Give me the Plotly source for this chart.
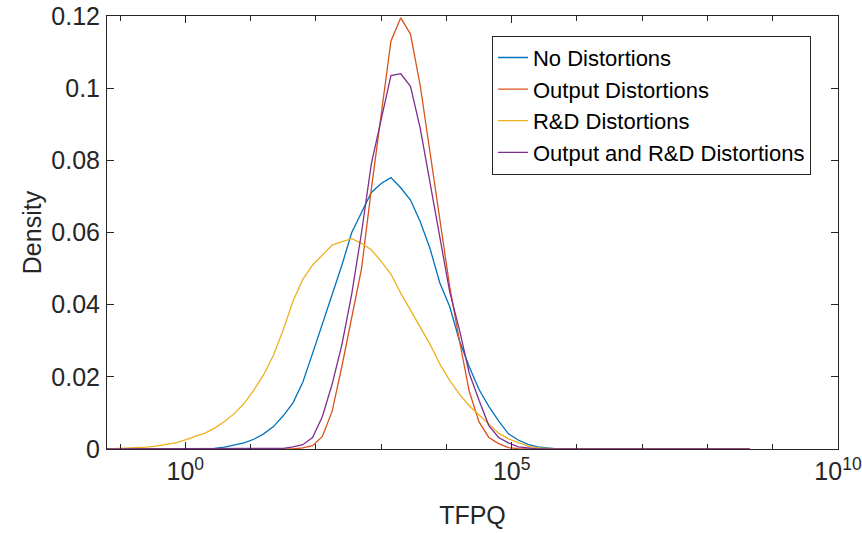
import plotly.graph_objects as go

# log10(TFPQ) evaluation grid (exponents)
log_tfpq = [-1.2, -1.05, -0.9, -0.75, -0.6, -0.45, -0.3, -0.15, 0.0, 0.15,
            0.3, 0.45, 0.6, 0.75, 0.9, 1.05, 1.2, 1.35, 1.5, 1.65,
            1.8, 1.95, 2.1, 2.25, 2.4, 2.55, 2.7, 2.85, 3.0, 3.15,
            3.3, 3.45, 3.6, 3.75, 3.9, 4.05, 4.2, 4.35, 4.5, 4.65,
            4.8, 4.95, 5.1, 5.25, 5.4, 5.55, 5.7, 5.85, 6.0, 7.0, 8.0, 8.65]

no_distortions = [0, 0, 0, 0, 0, 0, 0, 0, 0, 0,
                  0.0001, 0.0002, 0.0005, 0.0010, 0.0017, 0.0027, 0.0042, 0.0062, 0.0092, 0.0128,
                  0.0185, 0.0265, 0.0345, 0.0428, 0.0510, 0.0600, 0.0655, 0.0711, 0.0736, 0.0752,
                  0.0724, 0.0690, 0.0630, 0.0555, 0.0460, 0.0395, 0.0300, 0.0228, 0.0165, 0.0118,
                  0.0078, 0.0042, 0.0025, 0.0013, 0.0006, 0.0002, 0, 0, 0, 0, 0, 0]

output_distortions = [0, 0, 0, 0, 0, 0, 0, 0, 0, 0,
                      0, 0, 0, 0, 0, 0, 0, 0, 0, 0,
                      0.0003, 0.0009, 0.0035, 0.0105, 0.0230, 0.0360, 0.0500, 0.0720, 0.0930, 0.1130,
                      0.1195, 0.1150, 0.1006, 0.0823, 0.0636, 0.0451, 0.0300, 0.0160, 0.0075, 0.0032,
                      0.0015, 0.0004, 0.0001, 0, 0, 0, 0, 0, 0, 0, 0, 0]

rd_distortions = [0, 0.0001, 0.0002, 0.0003, 0.0005, 0.0008, 0.0012, 0.0017, 0.0025, 0.0034,
                  0.0044, 0.0058, 0.0076, 0.0098, 0.0126, 0.0163, 0.0206, 0.0260, 0.0330, 0.0410,
                  0.0470, 0.0510, 0.0537, 0.0565, 0.0575, 0.0583, 0.0570, 0.0552, 0.0520, 0.0485,
                  0.0432, 0.0385, 0.0340, 0.0290, 0.0235, 0.0190, 0.0152, 0.0120, 0.0094, 0.0068,
                  0.0044, 0.0028, 0.0017, 0.0008, 0.0003, 0.0001, 0, 0, 0, 0, 0, 0]

output_rd_distortions = [0, 0, 0, 0, 0, 0, 0, 0, 0, 0,
                         0, 0, 0, 0, 0, 0, 0, 0, 0.0002, 0.0006,
                         0.0012, 0.0032, 0.0090, 0.0180, 0.0290, 0.0430, 0.0600, 0.0790, 0.0915, 0.1035,
                         0.1040, 0.1005, 0.0888, 0.0739, 0.0588, 0.0436, 0.0330, 0.0210, 0.0135, 0.0065,
                         0.0032, 0.0017, 0.0006, 0.0002, 0, 0, 0, 0, 0, 0, 0, 0]

series_names = ["No Distortions", "Output Distortions", "R&D Distortions",
                "Output and R&D Distortions"]
series_values = [no_distortions, output_distortions, rd_distortions, output_rd_distortions]
colors = ["#0072BD", "#D95319", "#EDB120", "#7E2F8E"]

x_tick_vals = [1, 1e5, 1e10]
x_tick_text = ["10<sup>0</sup>", "10<sup>5</sup>", "10<sup>10</sup>"]
x_minor_vals = [10.0 ** k for k in range(-1, 11)]

tfpq = [10.0 ** e for e in log_tfpq]

fig = go.Figure()
for name, vals, col in zip(series_names, series_values, colors):
    fig.add_trace(go.Scatter(x=tfpq, y=vals, mode="lines", name=name,
                             line=dict(color=col, width=1.3)))

axis_col = "#262626"
font_family = "Liberation Sans, Arial, sans-serif"

fig.update_layout(
    width=862, height=533,
    margin=dict(l=107, r=24, t=16, b=84),
    paper_bgcolor="white", plot_bgcolor="white",
    font=dict(family=font_family, color=axis_col, size=25),
    showlegend=True,
    legend=dict(
        x=0.963, y=0.9545, xanchor="right", yanchor="top",
        bgcolor="white", bordercolor=axis_col, borderwidth=1,
        font=dict(size=22, color="#000000"),
        tracegroupgap=0, itemwidth=30,
    ),
)

fig.update_xaxes(
    type="log", range=[-1.2, 10], automargin=False,
    tickmode="array", tickvals=x_tick_vals, ticktext=x_tick_text,
    ticks="inside", ticklen=7, tickcolor=axis_col,
    showline=True, linecolor=axis_col, linewidth=1, mirror="ticks",
    showgrid=False, zeroline=False,
    tickfont=dict(size=25, color=axis_col),
    minor=dict(tickvals=x_minor_vals, ticks="inside", ticklen=5, tickcolor=axis_col, showgrid=False),
    title=dict(text="TFPQ", font=dict(size=25, color=axis_col), standoff=22),
)
fig.update_yaxes(
    range=[0, 0.12], tickmode="linear", tick0=0, dtick=0.02, automargin=False,
    ticks="inside", ticklen=7, tickcolor=axis_col,
    showline=True, linecolor=axis_col, linewidth=1, mirror="ticks",
    showgrid=False, zeroline=False,
    tickfont=dict(size=25, color=axis_col),
    ticklabelstandoff=1,
    title=dict(text="Density", font=dict(size=25, color=axis_col), standoff=2),
)

fig.write_html("out.html",
               config={"displayModeBar": False},
               post_script="document.body.style.margin='0';document.body.style.padding='0';")
